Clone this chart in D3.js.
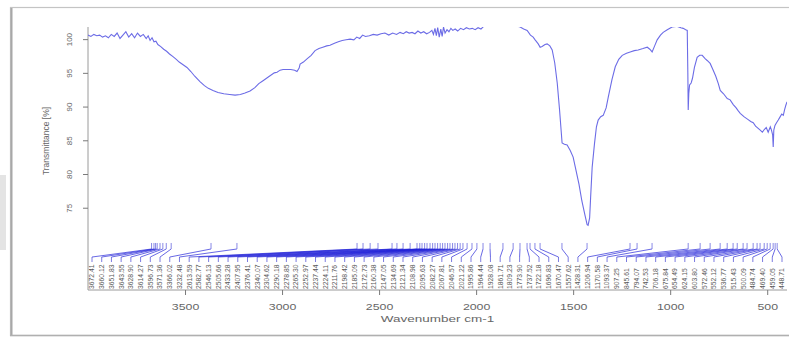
<!DOCTYPE html>
<html><head><meta charset="utf-8">
<script src="https://cdn.jsdelivr.net/npm/d3@7"></script>
<style>html,body{margin:0;padding:0;background:#fff;}svg{display:block;font-family:"Liberation Sans",Arial,sans-serif;}</style>
</head><body>
<svg id="c" width="789" height="339"></svg>
<script>
// ---- data ----
const wavenumber = [4000,3985,3970,3955,3940,3925,3910,3895,3880,3865,3850,3835,3820,3805,3790,3775,3760,3745,3730,3715,3700,3690,3680,3670,3660,3650,3640,3625,3610,3595,3580,3562,3545,3530,3510,3490,3470,3450,3423,3400,3380,3356,3330,3300,3270,3242,3215,3191,3165,3140,3120,3100,3080,3060,3040,3026,3010,2995,2975,2955,2935,2923,2912,2907,2890,2870,2850,2830,2810,2790,2770,2753,2730,2710,2690,2670,2649,2630,2615,2600,2585,2570,2550,2530,2510,2490,2470,2450,2430,2410,2392,2375,2360,2345,2330,2315,2300,2285,2270,2255,2240,2228,2220,2212,2205,2198,2190,2182,2175,2168,2160,2150,2140,2130,2120,2108,2095,2080,2065,2050,2035,2020,2005,1990,1975,1964,1950,1930,1900,1850,1810,1799,1785,1773,1755,1737,1720,1706,1696,1680,1670,1660,1645,1634,1620,1608,1595,1582,1570,1557,1545,1531,1515,1500,1485,1470,1455,1440,1428,1423,1415,1410,1402,1390,1380,1371,1358,1345,1330,1319,1300,1283,1265,1247,1225,1206,1185,1165,1140,1118,1105,1093,1080,1067,1050,1036,1015,990,965,945,933,920,912,909,907,904,900,892,885,875,861,848,835,820,808,794,780,765,752,742,725,706,691,675,660,650,639,620,600,585,572,560,548,536,525,515,505,495,484,478,472,469,466,460,452,443,435,425,417,410,404,398];
const transmittance = [100.6,100.4,100.7,100.5,100.6,100.3,100.5,100.2,100.7,100.4,100.9,100.1,100.6,101.1,100.3,100.8,100.2,100.9,100.4,100.7,100.1,100.5,99.8,100.2,99.6,99.7,99.2,98.9,98.5,98.2,97.8,97.4,97.0,96.6,96.2,95.8,95.2,94.5,93.7,93.1,92.7,92.4,92.1,91.9,91.8,91.7,91.8,92.0,92.3,92.8,93.4,93.8,94.2,94.6,95.0,95.1,95.4,95.5,95.5,95.5,95.4,95.2,95.7,96.3,96.6,97.1,97.6,98.3,98.6,98.8,99.0,99.1,99.4,99.6,99.8,99.9,100.0,99.9,100.3,100.1,100.6,100.4,100.5,100.7,100.6,100.8,100.9,100.6,100.9,100.7,101.0,100.8,101.1,100.9,101.0,100.8,101.2,100.9,101.1,100.8,101.0,101.3,100.7,101.6,100.5,101.7,100.3,101.5,100.4,101.8,100.9,101.4,101.1,101.6,101.3,101.5,101.2,101.6,101.4,101.7,101.5,101.6,101.4,101.7,101.5,101.8,102.5,103.5,104.0,104.0,102.5,101.9,101.9,101.8,101.5,101.3,100.6,100.3,99.9,99.3,98.8,98.9,99.2,99.3,99.0,98.4,96.5,93.5,89.5,84.6,84.4,84.3,83.5,82.5,80.5,78.5,76.0,74.0,72.5,72.4,73.5,76.5,81.0,84.5,87.0,88.0,88.5,88.7,89.8,91.4,94.0,95.9,97.0,97.6,97.9,98.1,98.3,98.4,98.6,98.8,98.5,98.1,99.0,99.9,100.6,101.0,101.4,101.8,101.9,101.7,101.6,101.4,101.3,95.0,89.5,92.0,93.2,93.5,94.2,95.8,97.3,97.6,97.6,97.1,96.8,96.4,95.5,94.5,93.4,92.4,91.9,91.2,91.0,90.3,89.8,89.4,89.0,88.5,88.1,87.8,87.6,87.1,86.8,86.5,86.2,86.6,86.9,86.2,87.0,86.5,85.8,84.0,86.5,87.2,87.6,88.0,88.4,88.9,88.7,89.6,90.2,90.7];
const peaks = [3672.41,3660.12,3651.83,3643.55,3628.90,3614.27,3596.73,3571.36,3366.02,3232.48,2613.59,2582.77,2546.13,2505.66,2433.28,2407.95,2376.41,2340.07,2304.62,2290.18,2278.85,2265.30,2252.97,2237.44,2224.11,2211.76,2198.42,2185.09,2172.73,2160.38,2147.05,2134.69,2121.34,2108.98,2095.63,2082.27,2067.81,2046.57,2021.22,1995.86,1964.44,1928.08,1861.71,1809.23,1773.90,1737.52,1722.18,1696.83,1670.47,1557.62,1428.31,1206.94,1170.58,1093.37,907.25,845.61,794.07,742.53,706.18,675.84,654.49,624.15,603.80,572.46,552.12,536.77,515.43,500.09,484.74,469.40,459.05,448.71];
const xTicks = [3500,3000,2500,2000,1500,1000,500];
const yTicks = [100,95,90,85,80,75];
const xTitle = "Wavenumber cm-1";
const yTitle = "Transmittance [%]";

// ---- layout ----
const svg = d3.select("#c");
const L = 88, R = 787, T = 27, B = 290;
const x = d3.scaleLinear().domain([4000, 398]).range([L, R]);
const y = d3.scaleLinear().domain([62.8, 101.8]).range([B, T]);
const grey = "#7a7a7a";

// outer frame of the screenshot
svg.append("rect").attr("x",0).attr("y",175).attr("width",6).attr("height",75).attr("fill","#e4e4e4");
svg.append("rect").attr("x",10.5).attr("y",7.5).attr("width",790).attr("height",328)
  .attr("fill","#fff").attr("stroke","#c4c4c4").attr("stroke-width",1.2);
svg.append("line").attr("x1",11.5).attr("x2",11.5).attr("y1",8).attr("y2",335).attr("stroke","#a8a8a8").attr("stroke-width",2);
svg.append("line").attr("x1",10).attr("x2",789).attr("y1",335.5).attr("y2",335.5).attr("stroke","#b0b0b0").attr("stroke-width",1.5);

// L-shaped box
svg.append("path").attr("d",`M${L},${T}V${B}H${R}`).attr("fill","none").attr("stroke","#9a9a9a").attr("stroke-width",1);

// y axis
const yAxis = d3.axisLeft(y).tickValues(yTicks).tickSize(5).tickFormat(d3.format("d"));
const gy = svg.append("g").attr("transform",`translate(${L},0)`).call(yAxis);
gy.select(".domain").remove();
gy.selectAll(".tick line").attr("stroke",grey);
gy.selectAll(".tick text").attr("fill","#666").attr("font-size",8)
  .attr("x",0).attr("dy",0).attr("text-anchor","middle")
  .attr("transform","translate(-19,0) rotate(-90)").attr("y",0).attr("dy","0.35em");

// x axis
const xAxis = d3.axisBottom(x).tickValues(xTicks).tickSize(5).tickFormat(d3.format("d"));
const gx = svg.append("g").attr("transform",`translate(0,${B})`).call(xAxis);
gx.select(".domain").remove();
gx.selectAll(".tick line").attr("stroke",grey);
gx.selectAll(".tick text").attr("fill","#666").attr("font-size",9.5).attr("y",0).attr("dy",0)
  .attr("transform","translate(0,19.5) scale(1.3,1)");

// titles
svg.append("text").attr("transform",`translate(${(L+R)/2},322) scale(1.42,1)`)
  .attr("text-anchor","middle").attr("font-size",9.5).attr("fill","#666").text(xTitle);
svg.append("text").attr("transform",`translate(49,141) rotate(-90)`)
  .attr("text-anchor","middle").attr("font-size",8.5).attr("fill","#666").text(yTitle);

// spectrum
svg.append("clipPath").attr("id","clip").append("rect").attr("x",L).attr("y",T).attr("width",R-L).attr("height",B-T);
const pts = wavenumber.map((w,i)=>[w, transmittance[i]]);
svg.append("path").datum(pts).attr("clip-path","url(#clip)")
  .attr("d", d3.line().x(d=>x(d[0])).y(d=>y(d[1])))
  .attr("fill","none").attr("stroke","#6c6ce6").attr("stroke-width",1.1);

// peak labels (spread evenly along the axis, connected to their peaks)
const lx = d3.scalePoint().domain(d3.range(peaks.length)).range([92, 782]);
const yLabBase = y(62.95), yTickLow = y(66.95), yTickHigh = y(67.69), yPeakLow = y(68.88), yPeakHigh = y(69.77);
const g = svg.append("g");
peaks.forEach((p,i)=>{
  const px = x(p), qx = lx(i);
  g.append("line").attr("x1",qx).attr("x2",qx).attr("y1",yTickLow).attr("y2",yTickHigh).attr("stroke","#5b5bd8").attr("stroke-width",0.8);
  g.append("line").attr("x1",qx).attr("x2",px).attr("y1",yTickHigh).attr("y2",yPeakLow).attr("stroke","#2020d8").attr("stroke-width",0.9).attr("opacity",0.75);
  g.append("line").attr("x1",px).attr("x2",px).attr("y1",yPeakLow).attr("y2",yPeakHigh).attr("stroke","#6a6ae0").attr("stroke-width",0.8);
  g.append("text").attr("transform",`translate(${qx+2.4},${yLabBase}) rotate(-90)`)
    .attr("font-size",6.8).attr("fill","#5a5a5a").text(p.toFixed(2));
});
</script>
</body></html>
